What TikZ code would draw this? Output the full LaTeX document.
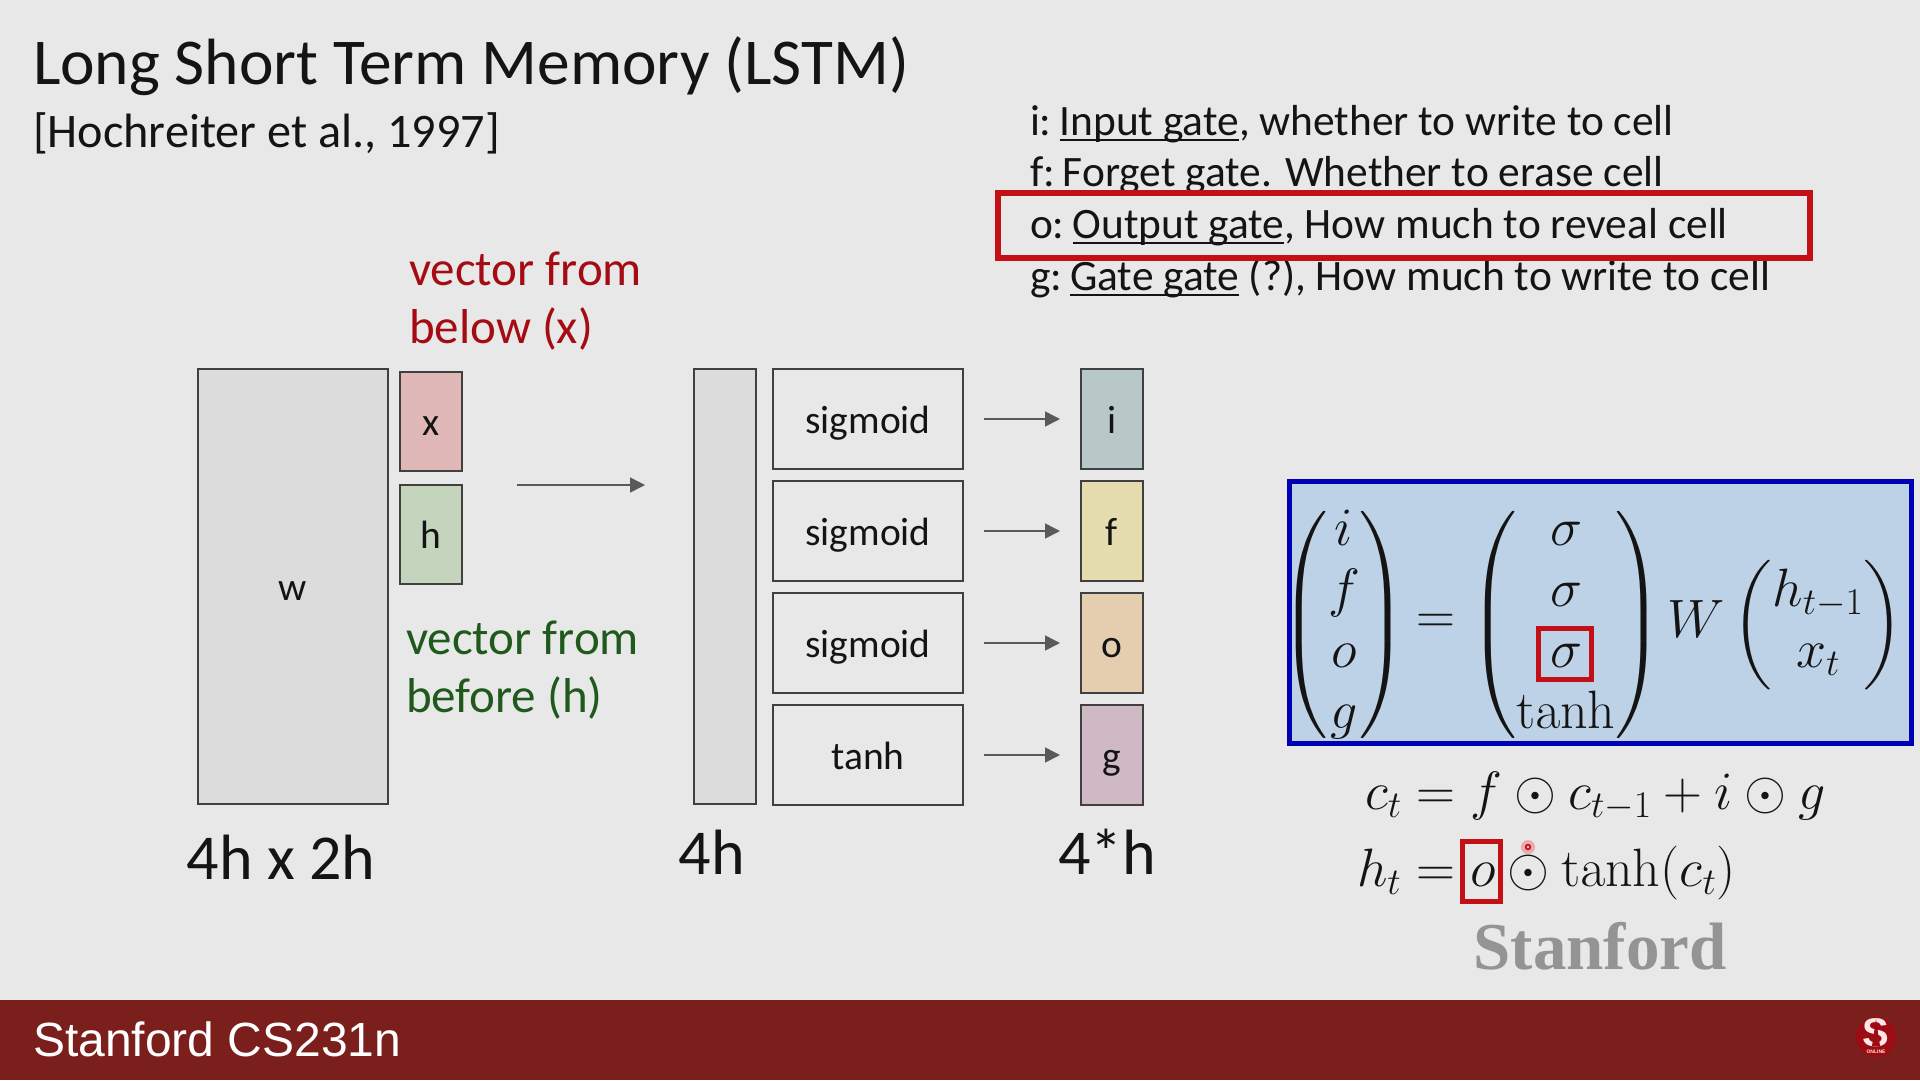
\RequirePackage{fix-cm}
\documentclass[tikz,border=0pt]{standalone}
\usepackage[no-math]{fontspec}
\usepackage{amsmath,amssymb}
\setmainfont{Carlito}
\newfontfamily\barfont{Liberation Sans}
\newfontfamily\logofont{Liberation Serif}
\definecolor{SlideBg}{HTML}{E8E8E8}
\definecolor{BarRed}{HTML}{7A1F1C}
\definecolor{MarkRed}{HTML}{C30F16}
\definecolor{BelowRed}{HTML}{A50B12}
\definecolor{BeforeGreen}{HTML}{1F5A1C}
\definecolor{EqBlue}{HTML}{BDD2E6}
\definecolor{EqFrame}{HTML}{0000B4}
\definecolor{BoxGrey}{HTML}{DCDCDC}
\definecolor{ArrowGrey}{HTML}{595959}
\definecolor{InkBlack}{HTML}{141414}
\definecolor{VecRed}{HTML}{E0B8B8}
\definecolor{VecGreen}{HTML}{C5D5BD}
\definecolor{GateI}{HTML}{B8C8C8}
\definecolor{GateF}{HTML}{E5DCB0}
\definecolor{GateO}{HTML}{E5CDB0}
\definecolor{GateG}{HTML}{CFB9C4}
\usetikzlibrary{
  calc,
  positioning,
  arrows.meta
}
\newcommand{\fsz}[2]{\fontsize{#1}{#2}\selectfont}
\newcommand{\gateul}[1]{\kern-5pt\vtop{\hbox{\raisebox{0pt}[\height][0pt]{#1}}\kern4pt\hrule height 2.4pt}}
\delimiterfactor=800
\delimitershortfall=40pt

\begin{document}
\begin{tikzpicture}[
  x=1pt, y=-1pt,
  every node/.style = {text=InkBlack, inner sep=0pt, outer sep=0pt},
  slidebox/.style = {draw=black!75, line width=1.6pt, align=center, font=\fsz{39.5}{44},
                     text height=33pt, text depth=5pt},
  vec/.style      = {slidebox, minimum width=62pt, minimum height=99pt},
  gate/.style     = {slidebox, minimum width=62pt, minimum height=100pt},
  fnbox/.style    = {slidebox, minimum width=190pt, minimum height=100pt},
  arrow/.style    = {-{Triangle[length=15pt,width=15pt]}, line width=1.5pt, color=ArrowGrey},
  sizelabel/.style = {font=\fsz{64}{68}},
  legend/.style   = {anchor=base west, font=\fsz{43.4}{47}},
  sidelabel/.style = {anchor=west, align=left, font=\fsz{49}{58}},
  mathnode/.style = {font=\fsz{54}{61}},
  markbox/.style  = {draw=MarkRed, line width=5pt}
]

  % Slide background and footer
  \fill[SlideBg] (0,0) rectangle (1920,1080);
  \useasboundingbox (0,0) rectangle (1920,1080);
  \fill[BarRed] (0,1000) rectangle (1920,1080);

  % Title
  \node[anchor=base west, font=\fsz{65.4}{70}] (title) at (33,84) {Long Short Term Memory (LSTM)};
  \node[anchor=base west, font=\fsz{48.2}{52}] (cite) at (33,147) {[Hochreiter et al., 1997]};

  % Gate legend
  \node[legend] (lgi) at (1030,135) {i: \gateul{Input gate}, whether to write to cell};
  \node[legend] (lgf) at (1030,186) {f: \gateul{Forget gate}. Whether to erase cell};
  \node[legend] (lgo) at (1030,238) {o: \gateul{Output gate}, How much to reveal cell};
  \node[legend] (lgg) at (1030,290) {g: \gateul{Gate gate} (?), How much to write to cell};
  \node[markbox, line width=6pt, minimum width=812pt, minimum height=65pt, anchor=north west] (lgmark) at (998,193) {};

  % Weight matrix and inputs
  \node[slidebox, fill=BoxGrey, minimum width=190pt, minimum height=435pt, anchor=north west] (wmat) at (198,369) {w};
  \node[vec, fill=VecRed, anchor=north west] (xvec) at (400,372) {x};
  \node[vec, fill=VecGreen, below=14pt of xvec] (hvec) {h};

  \node[sidelabel, text=BelowRed] (xlabel) at (409,301) {vector from\\below (x)};
  \node[sidelabel, text=BeforeGreen] (hlabel) at (406,670) {vector from\\before (h)};

  % Output of W and the four functions
  \node[slidebox, fill=BoxGrey, minimum width=62pt, minimum height=435pt, anchor=north west] (bar) at (694,369) {};
  \node[fnbox, anchor=north west] (fna) at (773,369) {sigmoid};
  \node[fnbox, below=12pt of fna] (fnb) {sigmoid};
  \node[fnbox, below=12pt of fnb] (fnc) {sigmoid};
  \node[fnbox, below=12pt of fnc] (fnd) {tanh};

  % Gates
  \node[gate, fill=GateI, right=118pt of fna] (gti) {i};
  \node[gate, fill=GateF, right=118pt of fnb] (gtf) {f};
  \node[gate, fill=GateO, right=118pt of fnc] (gto) {o};
  \node[gate, fill=GateG, right=118pt of fnd] (gtg) {g};

  % Sizes
  \node[sizelabel] (szw) at (281,857) {4h x 2h};
  \node[sizelabel] (szb) at (712,852) {4h};
  \node[sizelabel] (szg) at (1107,852) {4*h};

  % Arrows
  \draw[arrow, shorten <=55pt, shorten >=49pt] (hvec.north east) -- (hvec.north east -| bar.west);
  \draw[arrow, shorten <=21pt, shorten >=21pt] (fna) -- (gti);
  \draw[arrow, shorten <=21pt, shorten >=21pt] (fnb) -- (gtf);
  \draw[arrow, shorten <=21pt, shorten >=21pt] (fnc) -- (gto);
  \draw[arrow, shorten <=21pt, shorten >=21pt] (fnd) -- (gtg);

  % Blue equation
  \node[fill=EqBlue, minimum width=622pt, minimum height=262pt, anchor=north west] (eqbox) at (1289,481) {};
  \begin{scope}
    \clip (eqbox.north west) rectangle (eqbox.south east);
    \node[mathnode] (lhsvec) at (1344,625) {$\begin{pmatrix} i\\ f\\ o\\ g \end{pmatrix}$};
    \node[mathnode] (rhsmat) at (1566,625) {$\begin{pmatrix} \sigma\\ \sigma\\ \sigma\\ \tanh \end{pmatrix}$};
  \end{scope}
  \node[mathnode] (eqsign) at (1436,624) {$=$};
  \node[mathnode] (wsym) at (1696,619) {$W$};
  \node[mathnode] (invec) at (1818,625) {$\begin{pmatrix} h_{t-1}\\ x_t \end{pmatrix}$};
  \draw[EqFrame, line width=5pt] (eqbox.north west) rectangle (eqbox.south east);
  \node[markbox, minimum width=53pt, minimum height=51pt] (sigmark) at (1565,654) {};

  % Cell and hidden update
  \node[mathnode, anchor=base west] (celleq) at (1365,809) {$c_t = f \odot c_{t-1} + i \odot g$};
  \node[mathnode, anchor=base west] (hiddeneq) at (1357,886) {$h_t = o \odot \tanh(c_t)$};
  \node[markbox, minimum width=38pt, minimum height=60pt] (omark) at (1481,871) {};
  \fill[MarkRed!35] (1528,847) circle (7pt);
  \fill[MarkRed] (1528,847) circle (3.2pt);
  \fill[MarkRed!20] (1528,847) circle (1.4pt);

  % Wordmark and footer
  \node[font=\logofont\bfseries\fsz{67}{70}, text=black!42] (wordmark) at (1600,946) {Stanford};
  \node[anchor=base west, font=\barfont\fsz{48}{52}, text=white] (course) at (33,1056) {Stanford CS231n};

  % Footer seal
  \fill[MarkRed!80!black] (1876,1037) circle (20pt);
  \node[font=\barfont\bfseries\fsz{40}{40}, text=red!10!white] (sealS) at (1876,1033) {S};
  \fill[MarkRed!80!black] (1876,1019) -- (1880,1046) -- (1872,1046) -- cycle;
  \node[font=\barfont\bfseries\fsz{5}{5}, text=red!10!white] (sealon) at (1876,1052) {ONLINE};

\end{tikzpicture}
\end{document}
